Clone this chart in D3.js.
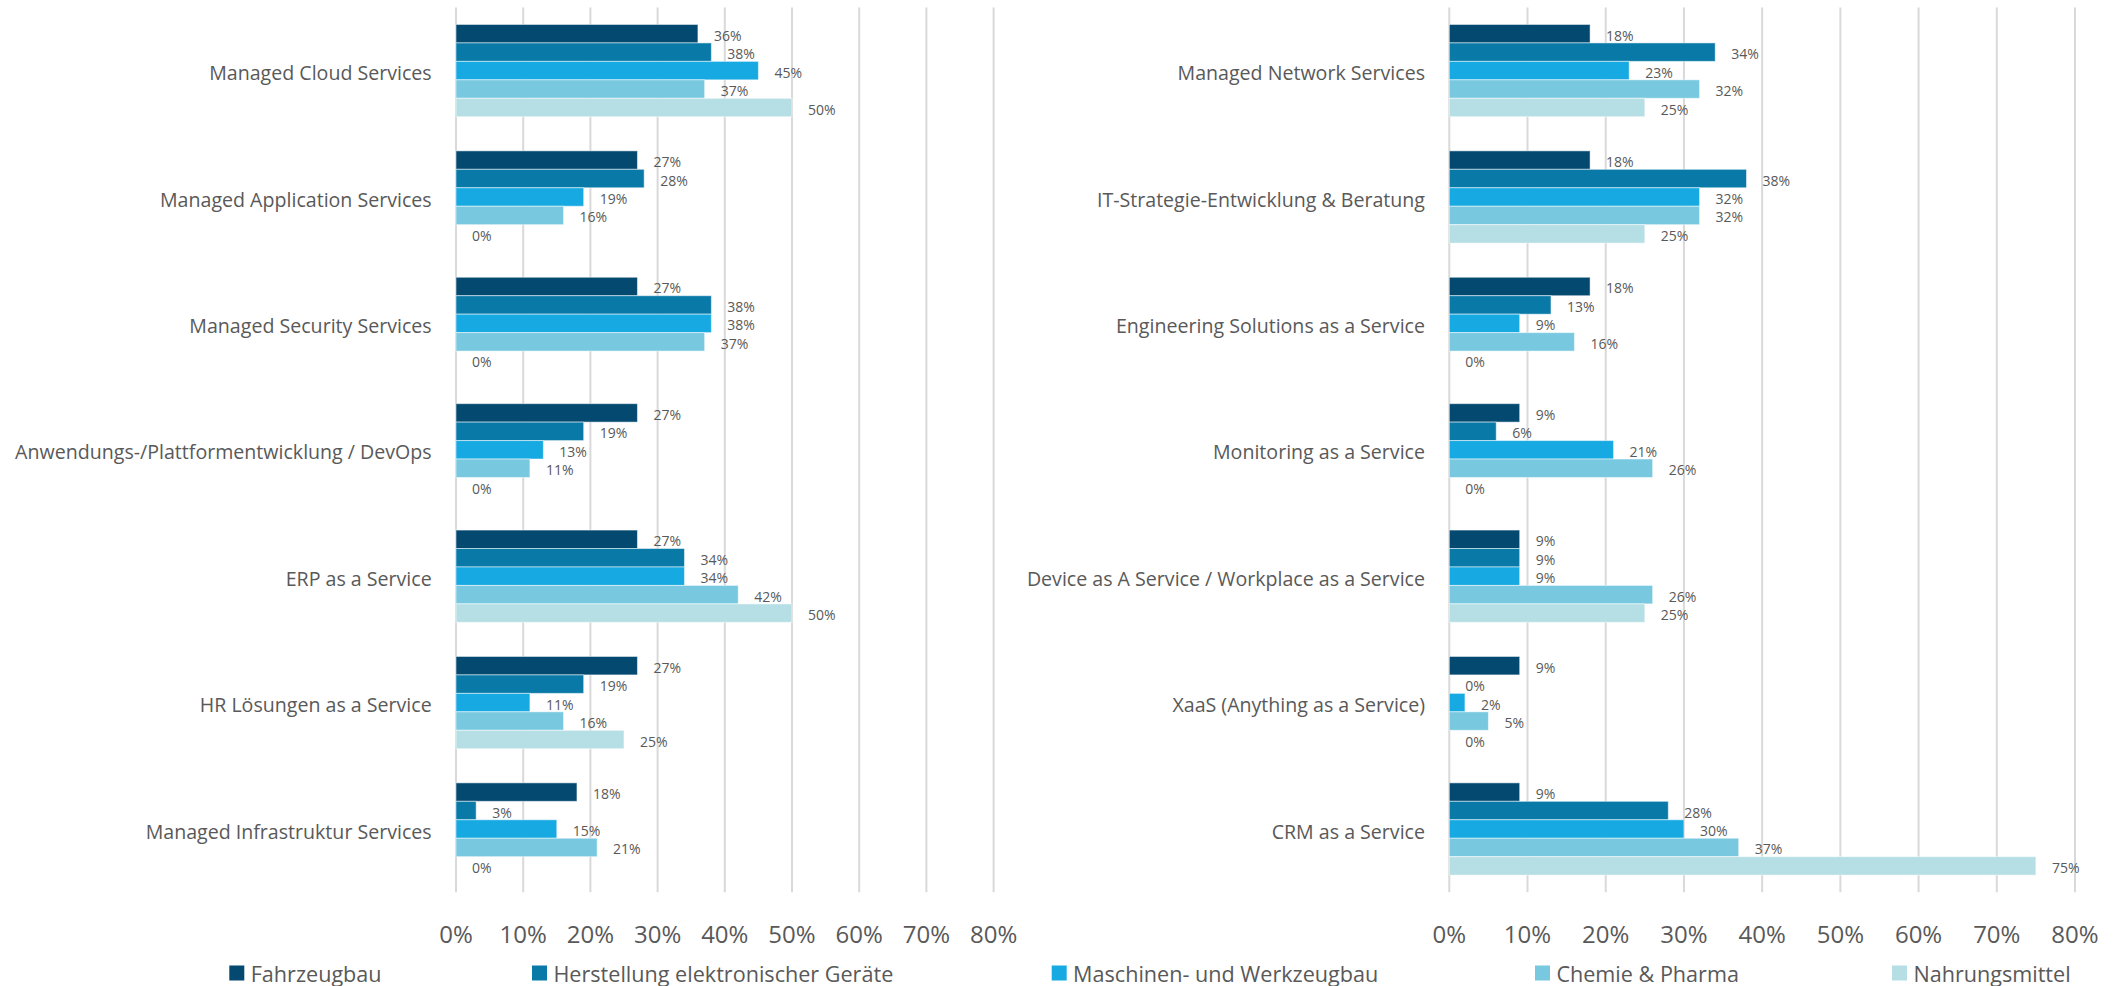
<!DOCTYPE html>
<html>
<head>
<meta charset="utf-8">
<script src="https://cdn.jsdelivr.net/npm/d3@7"></script>
<style>
  html, body { margin: 0; padding: 0; background: #fff; }
  svg { display: block; }
  text { font-family: "Open Sans", "Noto Sans", sans-serif; fill: #595959; }
</style>
</head>
<body>
<svg id="chart" width="2118" height="986"></svg>
<script>
// Series (industries) and their colours
const series = ["Fahrzeugbau", "Herstellung elektronischer Geräte", "Maschinen- und Werkzeugbau", "Chemie & Pharma", "Nahrungsmittel"];
const colors = ["#044970", "#0979A7", "#17A9E1", "#78C8DF", "#B6DFE5"];

// Left panel services
const leftCategories = [
  "Managed Cloud Services",
  "Managed Application Services",
  "Managed Security Services",
  "Anwendungs-/Plattformentwicklung / DevOps",
  "ERP as a Service",
  "HR Lösungen as a Service",
  "Managed Infrastruktur Services"
];
const leftFahrzeugbau  = [36, 27, 27, 27, 27, 27, 18];
const leftElektronik   = [38, 28, 38, 19, 34, 19, 3];
const leftMaschinen    = [45, 19, 38, 13, 34, 11, 15];
const leftChemie       = [37, 16, 37, 11, 42, 16, 21];
const leftNahrung      = [50, 0, 0, 0, 50, 25, 0];

// Right panel services
const rightCategories = [
  "Managed Network Services",
  "IT-Strategie-Entwicklung & Beratung",
  "Engineering Solutions as a Service",
  "Monitoring as a Service",
  "Device as A Service / Workplace as a Service",
  "XaaS (Anything as a Service)",
  "CRM as a Service"
];
const rightFahrzeugbau = [18, 18, 18, 9, 9, 9, 9];
const rightElektronik  = [34, 38, 13, 6, 9, 0, 28];
const rightMaschinen   = [23, 32, 9, 21, 9, 2, 30];
const rightChemie      = [32, 32, 16, 26, 26, 5, 37];
const rightNahrung     = [25, 25, 0, 0, 25, 0, 75];

// Axis ticks (percent)
const ticks = [0, 10, 20, 30, 40, 50, 60, 70, 80];

const svg = d3.select("#chart");

function panel(categories, valueArrays, x0, x1) {
  const g = svg.append("g");
  const x = d3.scaleLinear().domain([0, 80]).range([x0, x1]);
  const y = d3.scaleBand().domain(categories).range([7.4, 892.2]).paddingInner(0.27).paddingOuter(0.135);
  const ySub = d3.scaleBand().domain(series).range([0, y.bandwidth()]);

  // vertical gridlines
  g.selectAll("line.grid").data(ticks).join("line")
    .attr("class", "grid")
    .attr("x1", d => x(d)).attr("x2", d => x(d))
    .attr("y1", 7.4).attr("y2", 892.2)
    .attr("stroke", "#d9d9d9").attr("stroke-width", 2);

  // tick labels
  g.selectAll("text.tick").data(ticks).join("text")
    .attr("class", "tick")
    .attr("x", d => x(d)).attr("y", 933)
    .attr("text-anchor", "middle").attr("dominant-baseline", "central")
    .style("font-size", "24px")
    .text(d => d + "%");

  // category labels
  g.selectAll("text.cat").data(categories).join("text")
    .attr("class", "cat")
    .attr("x", x0 - 24.3).attr("y", d => y(d) + y.bandwidth() / 2 + 2)
    .attr("text-anchor", "end").attr("dominant-baseline", "central")
    .style("font-size", "19.6px")
    .text(d => d);

  const rows = [];
  categories.forEach((c, i) => {
    series.forEach((s, j) => rows.push({ cat: c, ser: s, j, v: valueArrays[j][i] }));
  });

  g.selectAll("rect.bar").data(rows).join("rect")
    .attr("class", "bar")
    .attr("x", x(0))
    .attr("y", d => y(d.cat) + ySub(d.ser))
    .attr("width", d => x(d.v) - x(0))
    .attr("height", ySub.bandwidth())
    .attr("fill", d => colors[d.j])
    .attr("stroke", "rgba(255,255,255,0.5)").attr("stroke-width", 1);

  g.selectAll("text.val").data(rows).join("text")
    .attr("class", "val")
    .attr("x", d => x(d.v) + 16)
    .attr("y", d => y(d.cat) + ySub(d.ser) + ySub.bandwidth() / 2 + 1.5)
    .attr("dominant-baseline", "central")
    .style("font-size", "14px")
    .text(d => d.v + "%");
}

panel(leftCategories, [leftFahrzeugbau, leftElektronik, leftMaschinen, leftChemie, leftNahrung], 456, 993.6);
panel(rightCategories, [rightFahrzeugbau, rightElektronik, rightMaschinen, rightChemie, rightNahrung], 1449.3, 2075);

// legend
const legendX = [229.3, 532, 1051.7, 1535, 1892];
const legend = svg.append("g").selectAll("g").data(series).join("g")
  .attr("transform", (d, i) => `translate(${legendX[i]},973)`);
legend.append("rect")
  .attr("x", 0).attr("y", -7.5).attr("width", 15).attr("height", 15)
  .attr("fill", (d, i) => colors[i]);
legend.append("text")
  .attr("x", 21.4).attr("y", 0).attr("dominant-baseline", "central")
  .style("font-size", "21.6px")
  .text(d => d);
</script>
</body>
</html>
